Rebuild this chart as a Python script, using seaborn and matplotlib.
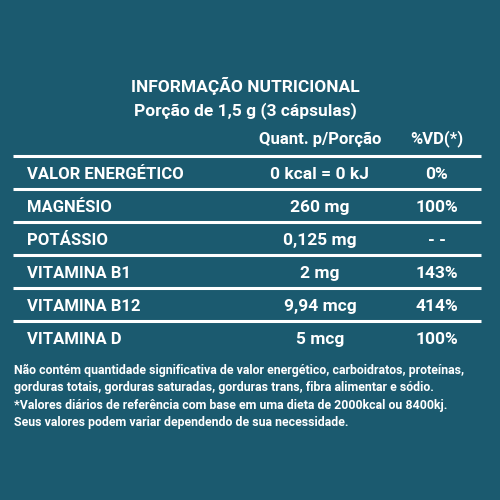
import matplotlib
matplotlib.use("Agg")
import matplotlib.pyplot as plt
import seaborn as sns

sns.set_theme(style="white")
plt.rcParams['font.family'] = ['Roboto', 'DejaVu Sans']

BG = '#1b5a6f'

title = "INFORMAÇÃO NUTRICIONAL"
subtitle = "Porção de 1,5 g (3 cápsulas)"
col_headers = ["Quant. p/Porção", "%VD(*)"]
nutrients = ["VALOR ENERGÉTICO", "MAGNÉSIO", "POTÁSSIO", "VITAMINA B1", "VITAMINA B12", "VITAMINA D"]
amounts = ["0 kcal = 0 kJ", "260 mg", "0,125 mg", "2 mg", "9,94 mcg", "5 mcg"]
vd = ["0%", "100%", "- -", "143%", "414%", "100%"]
footer = [
    "Não contém quantidade significativa de valor energético, carboidratos, proteínas,",
    "gorduras totais, gorduras saturadas, gorduras trans, fibra alimentar e sódio.",
    "*Valores diários de referência com base em uma dieta de 2000kcal ou 8400kj.",
    "Seus valores podem variar dependendo de sua necessidade.",
]

fig = plt.figure(figsize=(5, 5), dpi=100, facecolor=BG)
ax = fig.add_axes([0, 0, 1, 1], facecolor=BG)
ax.set_xlim(0, 500)
ax.set_ylim(500, 0)
ax.axis('off')

ax.text(245, 86, title, ha='center', va='center', color='white', fontsize=12.5, fontweight='bold')
ax.text(245, 111, subtitle, ha='center', va='center', color='white', fontsize=12.5, fontweight='bold')
ax.text(320, 139, col_headers[0], ha='center', va='center', color='white', fontsize=12, fontweight='bold')
ax.text(437, 139, col_headers[1], ha='center', va='center', color='white', fontsize=12, fontweight='bold')

row_h = 33
top = 156
for i, (n, a, v) in enumerate(zip(nutrients, amounts, vd)):
    y0 = top + i * row_h
    ax.plot([13, 481], [y0, y0], color='white', lw=2.2, solid_capstyle='butt')
    yc = y0 + row_h / 2 + 2
    ax.text(27, yc, n, ha='left', va='center', color='white', fontsize=12, fontweight='bold')
    ax.text(320, yc, a, ha='center', va='center', color='white', fontsize=12.5, fontweight='bold')
    ax.text(437, yc, v, ha='center', va='center', color='white', fontsize=12.5, fontweight='bold')

for j, line in enumerate(footer):
    ax.text(14, 370 + j * 17.5, line, ha='left', va='center', color='white', fontsize=8.9, fontweight='bold')

fig.savefig("out.png", dpi=100, facecolor=BG)
